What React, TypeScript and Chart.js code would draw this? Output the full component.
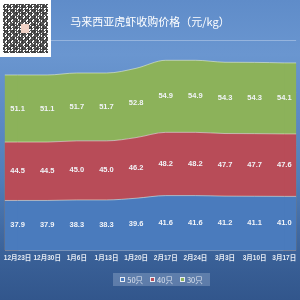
import React, { useEffect, useRef } from "react";
import { Chart, registerables } from "chart.js";

Chart.register(...registerables);

const categories = ["12月23日", "12月30日", "1月6日", "1月13日", "1月20日", "2月17日", "2月24日", "3月3日", "3月10日", "3月17日"];
const seriesNames = ["50只", "40只", "30只"];
const price50 = [37.9, 37.9, 38.3, 38.3, 39.6, 41.6, 41.6, 41.2, 41.1, 41.0];
const price40 = [44.5, 44.5, 45.0, 45.0, 46.2, 48.2, 48.2, 47.7, 47.7, 47.6];
const price30 = [51.1, 51.1, 51.7, 51.7, 52.8, 54.9, 54.9, 54.3, 54.3, 54.1];
const seriesValues = [price50, price40, price30];
const seriesColors = ["#4a7bbd", "#b84c58", "#8cb25a"];
const titleText = "马来西亚虎虾收购价格（元/kg）";

const FONT = "'Liberation Sans', 'Noto Sans CJK SC', sans-serif";

const edgeFillPlugin = {
  id: "edgeFill",
  beforeDatasetsDraw(chart: any) {
    const { ctx, chartArea: a } = chart;
    const n = chart.data.datasets.length;
    ctx.save();
    for (let di = n - 1; di >= 0; di--) {
      const pts = chart.getDatasetMeta(di).data;
      const first = pts[0];
      const last = pts[pts.length - 1];
      ctx.fillStyle = chart.data.datasets[di].backgroundColor;
      ctx.fillRect(a.left, first.y, first.x - a.left + 1, a.bottom - first.y);
      ctx.fillRect(last.x - 1, last.y, a.right - last.x + 1, a.bottom - last.y);
      ctx.strokeStyle = chart.data.datasets[di].borderColor;
      ctx.lineWidth = 1;
      ctx.beginPath();
      ctx.moveTo(a.left, first.y);
      ctx.lineTo(first.x, first.y);
      ctx.moveTo(last.x, last.y);
      ctx.lineTo(a.right, last.y);
      ctx.stroke();
    }
    ctx.restore();
  },
};

const bandLabelPlugin = {
  id: "bandLabels",
  afterDatasetsDraw(chart: any) {
    const { ctx } = chart;
    const y = chart.scales.y;
    const cum = categories.map(() => 0);
    ctx.save();
    ctx.font = `bold 7.5px ${FONT}`;
    ctx.fillStyle = "#f2f4f8";
    ctx.textAlign = "center";
    ctx.textBaseline = "middle";
    chart.data.datasets.forEach((ds: any, di: number) => {
      const meta = chart.getDatasetMeta(di);
      ds.data.forEach((p: any, j: number) => {
        const lower = y.getPixelForValue(cum[j]);
        cum[j] += p.y;
        const upper = y.getPixelForValue(cum[j]);
        ctx.fillText(p.y.toFixed(1), meta.data[j].x, (lower + upper) / 2);
      });
    });
    ctx.restore();
  },
};

export default function App() {
  const ref = useRef<HTMLCanvasElement | null>(null);

  useEffect(() => {
    if (!ref.current) return;
    const chart = new Chart(ref.current, {
      type: "line",
      data: {
        datasets: seriesNames.map((name, i) => ({
          label: name,
          data: seriesValues[i].map((v, j) => ({ x: j, y: v })),
          backgroundColor: seriesColors[i],
          borderColor: "rgba(235,240,220,0.55)",
          borderWidth: 1,
          pointRadius: 0,
          fill: i === 0 ? "origin" : "-1",
          cubicInterpolationMode: "monotone" as const,
        })),
      },
      plugins: [edgeFillPlugin, bandLabelPlugin],
      options: {
        animation: false,
        responsive: false,
        layout: { padding: { left: 0, right: 0, top: 0, bottom: 34 } },
        plugins: {
          legend: { display: false },
          tooltip: { enabled: false },
          title: {
            display: true,
            text: titleText,
            color: "#ffffff",
            font: { size: 11, weight: "normal", family: "'Noto Sans CJK SC', sans-serif" },
            padding: { top: 15, bottom: 12 },
          },
        },
        scales: {
          x: {
            type: "linear",
            min: -0.43,
            max: 9.4,
            grid: { display: false, drawTicks: false },
            border: { display: false },
            ticks: {
              stepSize: 1,
              includeBounds: false,
              autoSkip: false,
              maxRotation: 0,
              padding: 4,
              color: "#e6ebf3",
              font: { size: 6.5, weight: "bold", family: FONT },
              callback: (v: any) => {
                const i = Number(v);
                return Number.isInteger(i) && i >= 0 && i < categories.length ? categories[i] : "";
              },
            },
          },
          y: {
            stacked: true,
            min: 0,
            max: 160,
            grid: { color: "rgba(255,255,255,0.3)", drawTicks: false },
            border: { display: false },
            ticks: { display: false, stepSize: 40 },
          },
        },
      },
    });
    return () => chart.destroy();
  }, []);

  return (
    <div
      style={{
        position: "fixed",
        left: 0,
        top: 0,
        width: 300,
        height: 300,
        overflow: "hidden",
        background: "linear-gradient(180deg, #5f8cc9 0%, #6a96d0 18%, #4f7db9 60%, #3a6198 85%, #32568c 100%)",
      }}
    >
      <canvas ref={ref} width={300} height={300} style={{ position: "absolute", left: 0, top: 0 }} />
      <div
        style={{
          position: "absolute",
          left: 0,
          top: 0,
          width: 51,
          height: 57,
          background: "#ffffff",
        }}
      >
        <div
          style={{
            position: "absolute",
            left: 3,
            top: 4,
            width: 45,
            height: 49,
            background:
              "repeating-conic-gradient(#222 0 25%, #fff 0 50%) 0 0/3px 3px, repeating-conic-gradient(#333 0 25%, #fff 0 50%) 1px 1px/7px 7px",
            backgroundBlendMode: "multiply",
            opacity: 0.8,
          }}
        />
        <div style={{ position: "absolute", left: 21, top: 24, width: 8, height: 9, background: "#f0d2c6" }} />
      </div>
      <div
        style={{
          position: "absolute",
          left: 113,
          top: 273,
          width: 97,
          height: 13,
          background: "rgba(190,205,230,0.3)",
          display: "flex",
          alignItems: "center",
          justifyContent: "center",
          gap: 7,
          fontFamily: "'Noto Sans CJK SC', sans-serif",
          fontSize: 7.5,
          color: "#dfe5ef",
        }}
      >
        {seriesNames.map((name, i) => (
          <span key={name} style={{ display: "flex", alignItems: "center", gap: 2 }}>
            <span
              style={{
                display: "inline-block",
                width: 3,
                height: 3,
                background: seriesColors[i],
                border: "1px solid #e8ecf2",
              }}
            />
            <span>{name}</span>
          </span>
        ))}
      </div>
    </div>
  );
}
